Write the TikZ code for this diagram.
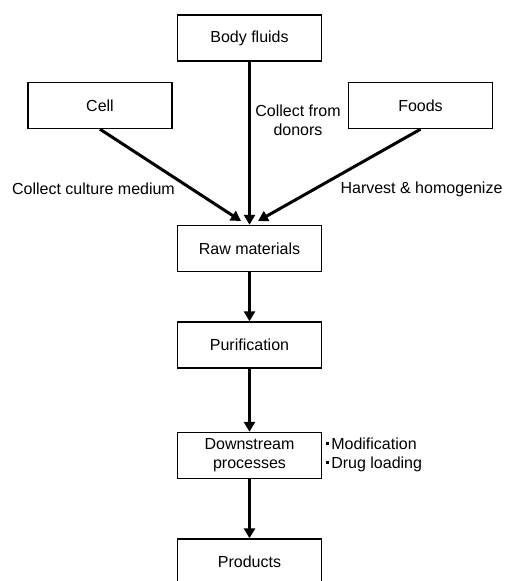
\documentclass[tikz,border=0pt]{standalone}
\usepackage{fontspec}
\setmainfont{Liberation Sans}
\usetikzlibrary{arrows.meta}
\newcommand{\mydot}{\rule[5pt]{2.6pt}{2.6pt}\hspace{2.5pt}}
\begin{document}
\begin{tikzpicture}[x=1pt,y=-1pt,
  box/.style={draw,line width=1.4pt,minimum width=144pt,minimum height=46pt,inner sep=0pt,font=\fontsize{16}{19}\selectfont,align=center},
  lbl/.style={font=\fontsize{16}{19}\selectfont,align=center,inner sep=0pt},
  flow/.style={line width=3pt,-{Triangle[length=10pt,width=11pt]}}]
\useasboundingbox (0,0) rectangle (505,581);
\clip (0,0) rectangle (505,581);
\node[box] (body) at (249.5,38) {Body fluids};
\node[box] (cell) at (100,105.5) {Cell};
\node[box] (foods) at (420.5,105.5) {Foods};
\node[box] (raw) at (249.5,248.5) {Raw materials};
\node[box] (pur) at (249.5,345) {Purification};
\node[box] (down) at (249.5,455.5) {Downstream\\processes};
\node[box] (prod) at (249.5,562) {Products};
\coordinate (rawL) at (241,221);
\coordinate (rawR) at (258,221);
\draw[flow] (body.south) -- (raw.north);
\draw[flow] (cell.south) -- (rawL);
\draw[flow] (foods.south) -- (rawR);
\draw[flow] (raw.south) -- (pur.north);
\draw[flow] (pur.south) -- (down.north);
\draw[flow] (down.south) -- (prod.north);
\node[lbl] (lcol) at (298,120) {Collect from\\donors};
\node[lbl] (lcul) at (93.5,189) {Collect culture medium};
\node[lbl] (lhar) at (421.5,189) {Harvest \& homogenize};
\node[lbl,anchor=west,align=left] (lmod) at (326,455) {\mydot Modification\\\mydot Drug loading};
\end{tikzpicture}
\end{document}
